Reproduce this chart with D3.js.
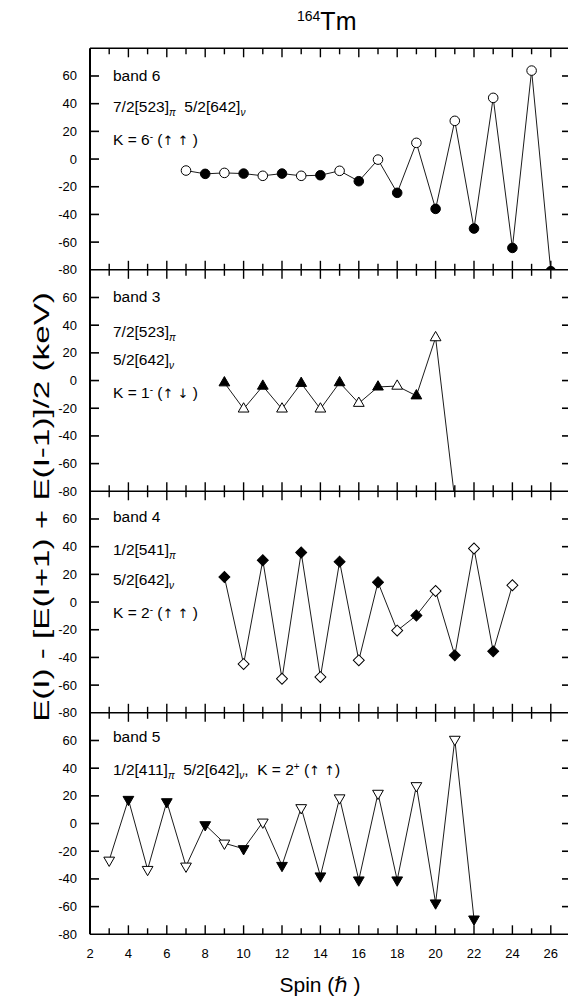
<!DOCTYPE html>
<html>
<head>
<meta charset="utf-8">
<script src="https://cdn.jsdelivr.net/npm/d3@7"></script>
<style>
  html, body { margin: 0; padding: 0; background: #fff; }
  svg { display: block; }
  text { font-family: "Liberation Sans", Arial, Helvetica, sans-serif; fill: #000; }
</style>
</head>
<body>
<svg id="chart" width="568" height="996"></svg>
<script>
// ---------------- data ----------------
const xTickValues = [2, 4, 6, 8, 10, 12, 14, 16, 18, 20, 22, 24, 26];
const yTickLabels = [60, 40, 20, 0, -20, -40, -60, -80];

// band 6 : circles (open odd, filled even)
const band6Spins  = [7, 8, 9, 10, 11, 12, 13, 14, 15, 16, 17, 18, 19, 20, 21, 22, 23, 24, 25, 26];
const band6Values = [-8.3, -10.7, -10, -10.5, -12.1, -10.5, -12.1, -11.7, -8.5, -16, -0.4, -24.4, 11.7, -36, 27.6, -50.2, 44.2, -64.2, 63.9, -81];
const band6Filled = [0, 1, 0, 1, 0, 1, 0, 1, 0, 1, 0, 1, 0, 1, 0, 1, 0, 1, 0, 1];

// band 3 : up triangles (filled odd, open even)
const band3Spins  = [9, 10, 11, 12, 13, 14, 15, 16, 17, 18, 19, 20, 21];
const band3Values = [-1.6, -20.5, -4, -20.5, -2, -20.5, -1.5, -16.4, -4.6, -4, -11, 31, -86];
const band3Filled = [1, 0, 1, 0, 1, 0, 1, 0, 1, 0, 1, 0, 1];

// band 4 : diamonds (filled odd, open even)
const band4Spins  = [9, 10, 11, 12, 13, 14, 15, 16, 17, 18, 19, 20, 21, 22, 23, 24];
const band4Values = [18.1, -44.8, 30.2, -55.4, 35.8, -54.2, 29.2, -42.1, 14.3, -20.6, -9.7, 8, -38.5, 38.7, -35.6, 12.1];
const band4Filled = [1, 0, 1, 0, 1, 0, 1, 0, 1, 0, 1, 0, 1, 0, 1, 0];

// band 5 : down triangles (open odd, filled even)
const band5Spins  = [3, 4, 5, 6, 7, 8, 9, 10, 11, 12, 13, 14, 15, 16, 17, 18, 19, 20, 21, 22];
const band5Values = [-26.5, 17.4, -33.2, 15.7, -30.8, -0.9, -14.2, -18.2, 1, -30.3, 11.4, -37.9, 18.5, -40.8, 21.8, -40.8, 27.3, -57.4, 60.8, -69];
const band5Filled = [0, 1, 0, 1, 0, 1, 0, 1, 0, 1, 0, 1, 0, 1, 0, 1, 0, 1, 0, 1];

const NB = "\u00a0";
const panels = [
  { spins: band6Spins, values: band6Values, filled: band6Filled, symbol: "circle",
    lines: [[{t:"band 6"}],
            [{t:"7/2[523]"},{t:"π",sub:1},{t:NB+NB+"5/2[642]"},{t:"ν",sub:1}],
            [{t:"K = 6"},{t:"-",sup:1},{t:" ("},{t:"↑"+NB+"↑",arr:1},{t:NB+")"}]],
    textY: [81, 112, 145] },
  { spins: band3Spins, values: band3Values, filled: band3Filled, symbol: "up",
    lines: [[{t:"band 3"}],
            [{t:"7/2[523]"},{t:"π",sub:1}],
            [{t:"5/2[642]"},{t:"ν",sub:1}],
            [{t:"K = 1"},{t:"-",sup:1},{t:" ("},{t:"↑"+NB+"↓",arr:1},{t:NB+")"}]],
    textY: [302, 337, 365, 398] },
  { spins: band4Spins, values: band4Values, filled: band4Filled, symbol: "diamond",
    lines: [[{t:"band 4"}],
            [{t:"1/2[541]"},{t:"π",sub:1}],
            [{t:"5/2[642]"},{t:"ν",sub:1}],
            [{t:"K = 2"},{t:"-",sup:1},{t:" ("},{t:"↑"+NB+"↑",arr:1},{t:NB+")"}]],
    textY: [522, 555, 585, 618] },
  { spins: band5Spins, values: band5Values, filled: band5Filled, symbol: "down",
    lines: [[{t:"band 5"}],
            [{t:"1/2[411]"},{t:"π",sub:1},{t:NB+NB+"5/2[642]"},{t:"ν",sub:1},{t:","+NB+NB+"K = 2"},{t:"+",sup:1},{t:" ("},{t:"↑"+NB+"↑",arr:1},{t:")"}]],
    textY: [742, 775] }
];

// ---------------- layout ----------------
const svg = d3.select("#chart");
const left = 90, right = 570;
const top0 = 48.3, panelH = 221.5;
const x = d3.scaleLinear().domain([2, 27]).range([left, right]);

const defs = svg.append("defs");

panels.forEach((p, i) => {
  const pTop = top0 + panelH * i, pBot = pTop + panelH;
  const y = d3.scaleLinear().domain([-80, 80]).range([pBot, pTop]);
  const g = svg.append("g");

  defs.append("clipPath").attr("id", "clip" + i)
    .append("rect").attr("x", left).attr("y", pTop).attr("width", right - left).attr("height", panelH);

  const yt = yTickLabels.filter(v => v > -80);
  g.selectAll(".ytl").data(yt).join("line")
    .attr("x1", left).attr("x2", left + 9)
    .attr("y1", d => y(d)).attr("y2", d => y(d))
    .attr("stroke", "#000").attr("stroke-width", 1.6);
  g.selectAll(".ytr").data(yt).join("line")
    .attr("x1", right - 8).attr("x2", right)
    .attr("y1", d => y(d)).attr("y2", d => y(d))
    .attr("stroke", "#000").attr("stroke-width", 1.6);
  g.selectAll(".ylab").data(yTickLabels).join("text")
    .attr("x", left - 13).attr("y", d => y(d) + 4.5)
    .attr("text-anchor", "end").attr("font-size", 13)
    .text(d => d);

  const data = p.spins.map((s, k) => ({ s, v: p.values[k], f: p.filled[k] }));
  const dg = g.append("g").attr("clip-path", "url(#clip" + i + ")");
  dg.append("path").datum(data)
    .attr("d", d3.line().x(d => x(d.s)).y(d => y(d.v)))
    .attr("fill", "none").attr("stroke", "#000").attr("stroke-width", 0.9);

  let sym, rot = 0, size;
  if (p.symbol === "circle") { sym = d3.symbolCircle; size = 72; }
  else if (p.symbol === "up") { sym = d3.symbolTriangle; size = 50; }
  else if (p.symbol === "down") { sym = d3.symbolTriangle; size = 50; rot = 180; }
  else { sym = d3.symbolSquare; size = 60; rot = 45; }
  const symPath = d3.symbol().type(sym).size(size)();
  dg.selectAll(".pt").data(data).join("path")
    .attr("d", symPath)
    .attr("transform", d => `translate(${x(d.s)},${y(d.v)}) rotate(${rot})`)
    .attr("fill", d => d.f ? "#000" : "#fff")
    .attr("stroke", "#000").attr("stroke-width", 1);

  p.lines.forEach((ln, li) => {
    const t = g.append("text").attr("x", 113).attr("y", p.textY[li]).attr("font-size", 15.5);
    ln.forEach(seg => {
      const ts = t.append("tspan").text(seg.t);
      if (seg.sub) ts.attr("font-size", 10).attr("font-style", "italic").attr("baseline-shift", "-4");
      if (seg.sup) ts.attr("font-size", 10).attr("baseline-shift", "5.5");
      if (seg.arr) ts.attr("font-family", "DejaVu Sans").attr("font-size", 13);
    });
  });
});

const xTicksAll = d3.range(2, 27.01, 1);
for (let b = 0; b <= panels.length; b++) {
  const yy = top0 + panelH * b;
  svg.append("line").attr("x1", left).attr("x2", 568).attr("y1", yy).attr("y2", yy)
    .attr("stroke", "#000").attr("stroke-width", 1.6);
  const up = b > 0, down = b < panels.length;
  svg.selectAll(".xt" + b).data(xTicksAll.filter(v => v > 2)).join("line")
    .attr("x1", d => x(d)).attr("x2", d => x(d))
    .attr("y1", d => yy - (up ? (d % 2 === 0 ? 9 : 6) : 0))
    .attr("y2", d => yy + (down ? (d % 2 === 0 ? 9 : 6) : 0))
    .attr("stroke", "#000").attr("stroke-width", 1.4);
}
svg.append("line").attr("x1", left).attr("x2", left)
  .attr("y1", top0).attr("y2", top0 + panelH * panels.length)
  .attr("stroke", "#000").attr("stroke-width", 2);

const bottom = top0 + panelH * panels.length;
svg.selectAll(".xlab").data(xTickValues).join("text")
  .attr("x", d => x(d)).attr("y", bottom + 24)
  .attr("text-anchor", "middle").attr("font-size", 13)
  .text(d => d);

const xt = svg.append("text").attr("x", 320).attr("y", 992)
  .attr("text-anchor", "middle").attr("font-size", 21);
xt.append("tspan").text("Spin (");
xt.append("tspan").attr("font-style", "italic").attr("font-family", "DejaVu Sans").text("ℏ");
xt.append("tspan").text(NB + ")");

// y-axis title, stretched along its length to match the reference
const yg = svg.append("g").attr("transform", `translate(49,507) rotate(-90)`);
const ylab = yg.append("text")
  .attr("text-anchor", "middle").attr("font-size", 23)
  .text("E(I) - [E(I+1) + E(I-1)]/2 (keV)");
const natural = ylab.node().getComputedTextLength();
ylab.attr("transform", `scale(${430 / natural},1)`);

const tt = svg.append("text").attr("x", 297).attr("y", 30).attr("font-size", 25);
tt.append("tspan").attr("font-size", 14).attr("baseline-shift", "9").text("164");
tt.append("tspan").text("Tm");
</script>
</body>
</html>
